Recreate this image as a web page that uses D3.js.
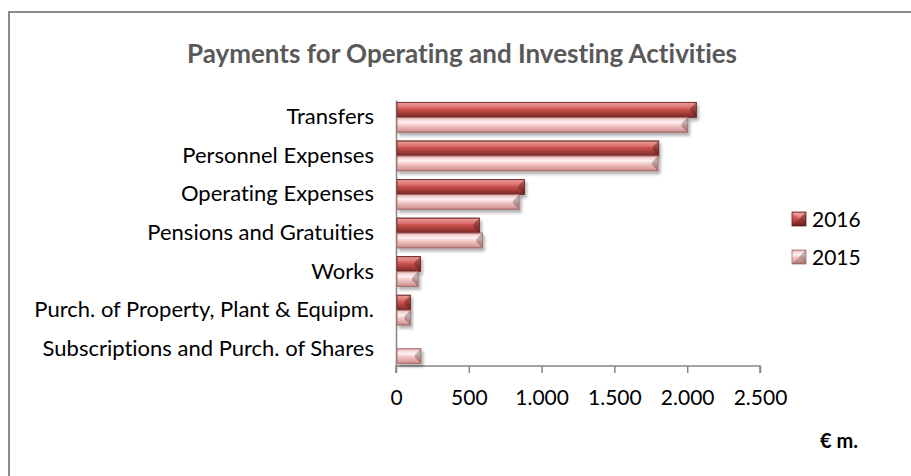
<!DOCTYPE html>
<html>
<head>
<meta charset="utf-8">
<script src="https://cdn.jsdelivr.net/npm/d3@7"></script>
<style>
  html, body { margin: 0; padding: 0; background: #fff; }
  svg { display: block; font-family: Lato, "Open Sans", sans-serif; font-variant-ligatures: none; }
</style>
</head>
<body>
<svg width="911" height="476"></svg>
<script>
const categories = ['Transfers', 'Personnel Expenses', 'Operating Expenses', 'Pensions and Gratuities',
                    'Works', 'Purch. of Property, Plant & Equipm.', 'Subscriptions and Purch. of Shares'];
const series = ['2016', '2015'];
const values2016 = [2063, 1805, 883, 573, 168, 100, 0];
const values2015 = [2004, 1800, 846, 594, 152, 100, 172];
const xTicks = [0, 500, 1000, 1500, 2000, 2500];

const plotLeft = 396,
      plotRight = 760,
      plotTop = 100,
      plotBottom = 366;

const data = categories.map((c, i) => ({ category: c, values: [values2016[i], values2015[i]] }));

const svg = d3.select('svg');

// gradients
const defs = svg.append('defs');
const grads = {
  '2016': [['0', '#6e2322'], ['0.08', '#e58685'], ['0.3', '#db6361'], ['0.6', '#b84543'], ['0.88', '#8c302e'], ['1', '#6a2120']],
  '2015': [['0', '#b57877'], ['0.1', '#f0c2c1'], ['0.32', '#fff1f1'], ['0.55', '#f3c5c4'], ['0.88', '#d59b9a'], ['1', '#a96c6b']]
};
Object.entries(grads).forEach(([k, stops]) => {
  const g = defs.append('linearGradient')
      .attr('id', 'g' + k)
      .attr('x1', 0).attr('y1', 0).attr('x2', 0).attr('y2', 1);
  stops.forEach(([o, c]) => g.append('stop').attr('offset', o).attr('stop-color', c));
});
const shadow = defs.append('filter').attr('id', 'shadow')
    .attr('x', '-10%').attr('y', '-30%').attr('width', '130%').attr('height', '180%');
shadow.append('feDropShadow')
    .attr('dx', 2).attr('dy', 3).attr('stdDeviation', 1.8)
    .attr('flood-color', '#000').attr('flood-opacity', 0.3);

// frame
svg.append('rect')
    .attr('x', 9).attr('y', 12)
    .attr('width', 920).attr('height', 480)
    .attr('fill', '#fff')
    .attr('stroke', '#8c8c8c')
    .attr('stroke-width', 2);

svg.append('text')
    .attr('x', 462).attr('y', 63)
    .attr('text-anchor', 'middle')
    .attr('font-weight', 'bold')
    .attr('font-size', 26)
    .attr('fill', '#595959')
    .text('Payments for Operating and Investing Activities');

const x = d3.scaleLinear().domain([0, 2500]).range([plotLeft, plotRight]);
const y = d3.scaleBand().domain(categories).range([plotTop, plotBottom]).paddingInner(0.22).paddingOuter(0.06);
const ySub = d3.scaleBand().domain(series).range([0, y.bandwidth()]);

// x axis
const xAxis = svg.append('g')
    .attr('transform', `translate(0,${plotBottom})`)
    .call(d3.axisBottom(x).tickValues(xTicks).tickSize(7).tickPadding(17)
      .tickFormat((d) => d3.format(',')(d).replace(',', '.')));
xAxis.selectAll('path, line').attr('stroke', '#868686').attr('stroke-width', 1.5);
xAxis.select('.domain').attr('d', `M${plotLeft},7V0H${plotRight}V7`);
xAxis.selectAll('text').attr('font-size', 21).attr('fill', '#000').attr('font-family', 'Lato, sans-serif');

// y axis
const yAxis = svg.append('g')
    .attr('transform', `translate(${plotLeft},0)`)
    .call(d3.axisLeft(y).tickSize(0).tickPadding(22));
yAxis.select('.domain').attr('stroke', '#868686').attr('stroke-width', 1.5);
yAxis.selectAll('text').attr('font-size', 22).attr('fill', '#000').attr('font-family', 'Lato, sans-serif');

// bars
function bevelBar(g, x0, y0, x1, h, key) {
  const y1 = y0 + h;
  const b = Math.min(6, (x1 - x0) / 2);
  const bar = g.append('g').attr('filter', 'url(#shadow)');
  bar.append('rect')
      .attr('x', x0).attr('y', y0)
      .attr('width', x1 - x0).attr('height', h)
      .attr('fill', `url(#g${key})`);
  bar.append('path')
      .attr('d', `M${x1},${y0}L${x1},${y1}L${x1 - b},${y1 - b}L${x1 - b},${y0 + b}Z`)
      .attr('fill', '#000').attr('opacity', 0.25);
  bar.append('path')
      .attr('d', `M${x0},${y0}L${x1},${y0}L${x1 - b},${y0 + b}L${x0},${y0 + b}Z`)
      .attr('fill', '#fff').attr('opacity', 0.12);
  bar.append('rect')
      .attr('x', x0).attr('y', y0)
      .attr('width', x1 - x0).attr('height', h)
      .attr('fill', 'none')
      .attr('stroke', key === '2016' ? '#6a2120' : '#a56f6e')
      .attr('stroke-width', 0.8);
}

const barsG = svg.append('g');
data.forEach((d) => {
  series.forEach((s, j) => {
    if (d.values[j] <= 0) { return; }
    bevelBar(barsG, x(0) + 1, y(d.category) + ySub(s), x(d.values[j]), ySub.bandwidth(), s);
  });
});

// legend
const legendY = [219, 257];
series.forEach((s, i) => {
  const g = svg.append('g').attr('transform', `translate(792,${legendY[i] - 7})`);
  g.append('rect').attr('width', 14).attr('height', 14).attr('fill', `url(#g${s})`);
  g.append('path').attr('d', 'M0,0L14,0L7,7Z').attr('fill', '#fff').attr('opacity', 0.25);
  g.append('path').attr('d', 'M14,0L14,14L7,7Z').attr('fill', '#000').attr('opacity', 0.25);
  g.append('path').attr('d', 'M0,14L14,14L7,7Z').attr('fill', '#000').attr('opacity', 0.15);
  g.append('rect').attr('width', 14).attr('height', 14).attr('fill', 'none')
      .attr('stroke', s === '2016' ? '#6a2120' : '#a56f6e').attr('stroke-width', 0.8);
  svg.append('text')
      .attr('x', 812).attr('y', legendY[i])
      .attr('dy', '0.36em')
      .attr('font-size', 21)
      .text(s);
});

svg.append('text')
    .attr('x', 858).attr('y', 448)
    .attr('text-anchor', 'end')
    .attr('font-weight', 'bold')
    .attr('font-size', 20)
    .text('€ m.');
</script>
</body>
</html>
